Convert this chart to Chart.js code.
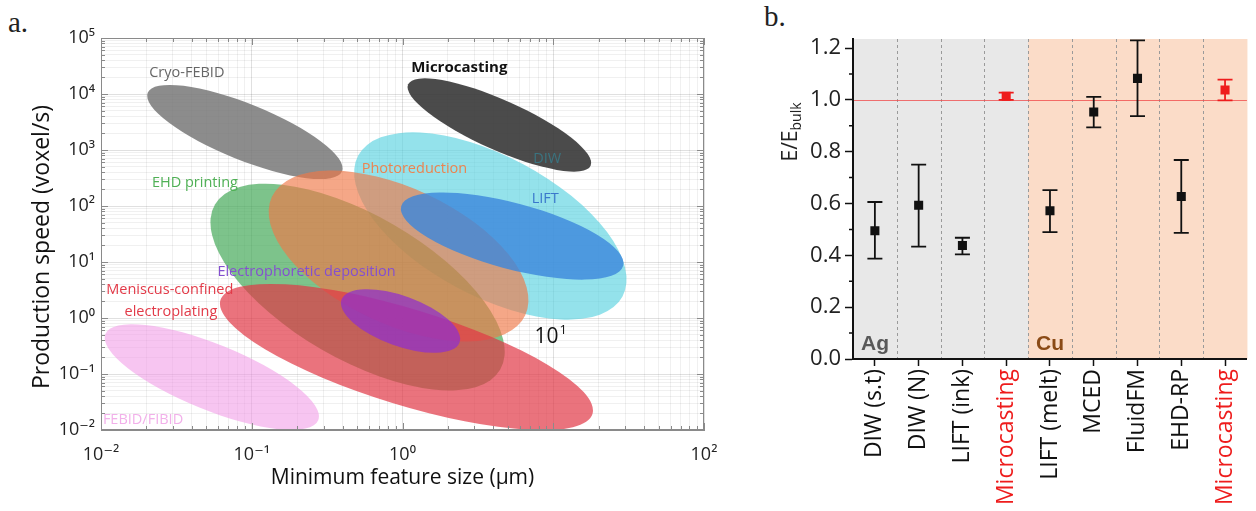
<!DOCTYPE html>
<html>
<head>
<meta charset="utf-8">
<script src="https://cdn.jsdelivr.net/npm/chart.js@4.4.0/dist/chart.umd.min.js"></script>
<style>
  html, body { margin: 0; padding: 0; background: #fff; }
  body { width: 1256px; height: 511px; position: relative; overflow: hidden; }
  .panel { position: absolute; top: 0; }
  #wrapA { left: 0; width: 740px; height: 511px; }
  #wrapB { left: 760px; width: 496px; height: 511px; }
  .letter { position: absolute; font-family: "Liberation Serif", serif; font-size: 29px; color: #222; line-height: 32px; }
</style>
</head>
<body>
<div class="letter" style="left:8px;top:6px">a.</div>
<div class="letter" style="left:764px;top:0px">b.</div>
<div class="panel" id="wrapA"><canvas id="chartA" width="740" height="511"></canvas></div>
<div class="panel" id="wrapB"><canvas id="chartB" width="496" height="511"></canvas></div>
<script>
// ---- panel a : production speed vs feature size (regions drawn as ellipses in log space)
const techniques = ["Microcasting", "Cryo-FEBID", "DIW", "EHD printing", "Photoreduction", "LIFT",
  "Meniscus-confined electroplating", "Electrophoretic deposition", "FEBID/FIBID"];
// ends of the long axis of each region (feature size in µm, speed in voxel/s)
const sizeFrom  = [1.09, 0.0204, 0.508, 0.057, 0.136, 0.98, 0.062, 0.394, 0.0107];
const speedFrom = [14900, 10540, 794, 106, 146, 99, 2.09, 2.14, 0.52];
const sizeTo    = [17.7, 0.397, 28.8, 4.45, 6.52, 29.1, 18.2, 2.39, 0.276];
const speedTo   = [525, 417, 2.43, 0.12, 1.12, 8.55, 0.0193, 0.365, 0.015];
// half width of each region across its long axis, in decades of speed
const spreadDecades = [0.446, 0.5, 1.25, 1.286, 1.214, 0.589, 0.857, 0.446, 0.589];

const sizeDecades = [-2, -1, 0, 1, 2];
const sizeTickLabels = ["10⁻²", "10⁻¹", "10⁰", "", "10²"];
const speedDecades = [-2, -1, 0, 1, 2, 3, 4, 5];
const speedTickLabels = ["10⁻²", "10⁻¹", "10⁰", "10¹", "10²", "10³", "10⁴", "10⁵"];

// ---- panel b : normalised modulus
const methods = ["DIW (s.t)", "DIW (N)", "LIFT (ink)", "Microcasting", "LIFT (melt)", "MCED", "FluidFM", "EHD-RP", "Microcasting"];
const metals = ["Ag", "Ag", "Ag", "Ag", "Cu", "Cu", "Cu", "Cu", "Cu"];
const modulusRatio = [0.495, 0.593, 0.438, 1.014, 0.572, 0.953, 1.083, 0.627, 1.038];
const errLow  = [0.387, 0.434, 0.404, 1.000, 0.490, 0.894, 0.937, 0.487, 0.998];
const errHigh = [0.606, 0.750, 0.468, 1.028, 0.652, 1.012, 1.230, 0.768, 1.078];
const ratioTicks = [0, 0.2, 0.4, 0.6, 0.8, 1.0, 1.2];

const regionColors = ["rgba(55,55,55,0.9)", "rgba(120,120,120,0.85)", "rgba(90,210,225,0.65)",
  "rgba(70,170,90,0.7)", "rgba(240,120,70,0.65)", "rgba(60,135,220,0.8)",
  "rgba(225,55,70,0.7)", "rgba(145,50,200,0.75)", "rgba(240,150,230,0.55)"];

const regionLabels = [
  {text: "Cryo-FEBID", x: 0.0371, y: 23700, color: "#666"},
  {text: "Microcasting", x: 2.38, y: 29100, color: "#111", bold: true},
  {text: "DIW", x: 9.12, y: 690, color: "#3a7480"},
  {text: "Photoreduction", x: 1.20, y: 458, color: "#ec8450"},
  {text: "EHD printing", x: 0.0420, y: 258, color: "#4fb055"},
  {text: "LIFT", x: 8.85, y: 133, color: "#3a78cc"},
  {text: "Electrophoretic deposition", x: 0.231, y: 6.63, color: "#8450d0"},
  {text: "Meniscus-confined", x: 0.0286, y: 3.16, color: "#e23a48"},
  {text: "electroplating", x: 0.0291, y: 1.28, color: "#e23a48"},
  {text: "FEBID/FIBID", x: 0.0190, y: 0.0151, color: "#f2b0ea"}
];

const RED = "#ee1c1c";
const FONT = "'Open Sans', 'DejaVu Sans', sans-serif";

function logTicks(decades) {
  const t = [];
  for (let k = 0; k < decades.length - 1; k++) {
    for (let s = 1; s < 10; s++) t.push({value: Number((s * Math.pow(10, decades[k])).toPrecision(3))});
  }
  t.push({value: Math.pow(10, decades[decades.length - 1])});
  return t;
}
function decadeLabel(value, decades, labels) {
  const l = Math.log10(value);
  const i = decades.indexOf(Math.round(l));
  if (Math.abs(l - Math.round(l)) > 1e-6 || i < 0) return "";
  return labels[i];
}
function isDecade(v) { const l = Math.log10(v); return Math.abs(l - Math.round(l)) < 1e-6; }

const regionPlugin = {
  id: "regions",
  beforeDatasetsDraw(chart) {
    const {ctx, chartArea: a, scales: {x, y}} = chart;
    const decade = y.getPixelForValue(1) - y.getPixelForValue(10);
    ctx.save();
    ctx.beginPath();
    ctx.rect(a.left, a.top, a.right - a.left, a.bottom - a.top);
    ctx.clip();
    techniques.forEach(function (name, i) {
      const x1 = x.getPixelForValue(sizeFrom[i]), y1 = y.getPixelForValue(speedFrom[i]);
      const x2 = x.getPixelForValue(sizeTo[i]), y2 = y.getPixelForValue(speedTo[i]);
      ctx.beginPath();
      ctx.ellipse((x1 + x2) / 2, (y1 + y2) / 2, Math.hypot(x2 - x1, y2 - y1) / 2,
        spreadDecades[i] * decade, Math.atan2(y2 - y1, x2 - x1), 0, Math.PI * 2);
      ctx.fillStyle = regionColors[i];
      ctx.fill();
    });
    ctx.restore();
  },
  afterDraw(chart) {
    const {ctx, chartArea: a, scales: {x, y}} = chart;
    ctx.save();
    // frame + inner ticks
    ctx.strokeStyle = "#8a8a8a";
    ctx.lineWidth = 1;
    ctx.strokeRect(a.left + 0.5, a.top + 0.5, a.right - a.left - 1, a.bottom - a.top - 1);
    ctx.beginPath();
    x.ticks.forEach(function (t) {
      const px = Math.round(x.getPixelForValue(t.value)) + 0.5;
      const len = isDecade(t.value) ? 7 : 4;
      ctx.moveTo(px, a.bottom); ctx.lineTo(px, a.bottom - len);
      ctx.moveTo(px, a.top); ctx.lineTo(px, a.top + len);
    });
    y.ticks.forEach(function (t) {
      const py = Math.round(y.getPixelForValue(t.value)) + 0.5;
      const len = isDecade(t.value) ? 7 : 4;
      ctx.moveTo(a.left, py); ctx.lineTo(a.left + len, py);
      ctx.moveTo(a.right, py); ctx.lineTo(a.right - len, py);
    });
    ctx.stroke();
    // region labels
    ctx.textAlign = "center";
    ctx.textBaseline = "middle";
    regionLabels.forEach(function (l) {
      ctx.font = (l.bold ? "bold 15px " : "14.5px ") + FONT;
      ctx.fillStyle = l.color;
      ctx.fillText(l.text, x.getPixelForValue(l.x), y.getPixelForValue(l.y));
    });
    // stray decade label left inside the plot
    ctx.fillStyle = "#111";
    ctx.textAlign = "left";
    ctx.textBaseline = "alphabetic";
    ctx.font = "21px " + FONT;
    const sx = x.getPixelForValue(7.5), sy = y.getPixelForValue(0.36);
    ctx.fillText("10", sx, sy);
    const w = ctx.measureText("10").width;
    ctx.font = "13px " + FONT;
    ctx.fillText("1", sx + w + 1, sy - 9);
    // y title
    ctx.translate(42, 247);
    ctx.rotate(-Math.PI / 2);
    ctx.textAlign = "center";
    ctx.textBaseline = "middle";
    ctx.font = "23px " + FONT;
    ctx.fillText("Production speed (voxel/s)", 0, 0);
    ctx.restore();
  }
};

new Chart(document.getElementById("chartA"), {
  type: "scatter",
  data: {
    datasets: techniques.map(function (name, i) {
      return {label: name, data: [{x: sizeFrom[i], y: speedFrom[i]}, {x: sizeTo[i], y: speedTo[i]}], pointRadius: 0, showLine: false};
    })
  },
  options: {
    responsive: false,
    animation: false,
    layout: {padding: {left: 0, right: 36, top: 38, bottom: 0}},
    plugins: {legend: {display: false}, tooltip: {enabled: false}},
    scales: {
      x: {
        type: "logarithmic", min: 0.01, max: 100,
        afterBuildTicks: function (s) { s.ticks = logTicks(sizeDecades); },
        afterFit: function (s) { s.height = 81; },
        ticks: {autoSkip: false, maxRotation: 0, padding: 14, color: "#222", font: {family: FONT, size: 18},
          callback: function (v) { return decadeLabel(v, sizeDecades, sizeTickLabels); }},
        grid: {drawTicks: false, color: function (c) { return isDecade(c.tick.value) ? "rgba(0,0,0,0.12)" : "rgba(0,0,0,0.06)"; }},
        border: {color: "#8a8a8a"},
        title: {display: true, text: "Minimum feature size (μm)", color: "#111", font: {family: FONT, size: 21}, padding: {top: 0, bottom: 20}}
      },
      y: {
        type: "logarithmic", min: 0.01, max: 100000,
        afterBuildTicks: function (s) { s.ticks = logTicks(speedDecades); },
        afterFit: function (s) { s.width = 101; },
        ticks: {autoSkip: false, padding: 6, color: "#222", font: {family: FONT, size: 18},
          callback: function (v) { return decadeLabel(v, speedDecades, speedTickLabels); }},
        grid: {drawTicks: false, color: function (c) { return isDecade(c.tick.value) ? "rgba(0,0,0,0.12)" : "rgba(0,0,0,0.06)"; }},
        border: {color: "#8a8a8a"}
      }
    }
  },
  plugins: [regionPlugin]
});

// ---- panel b
const groupColors = {Ag: "#e8e8e8", Cu: "#fbdcc8"};
const groupText = {Ag: "#595959", Cu: "#8a4a16"};
const markColor = function (i) { return methods[i] === "Microcasting" ? RED : "#111"; };

const modulusPlugin = {
  id: "modulus",
  beforeDraw(chart) {
    const {ctx, chartArea: a, scales: {x, y}} = chart;
    const half = (x.getPixelForValue(1) - x.getPixelForValue(0)) / 2;
    ctx.save();
    // metal groups
    metals.forEach(function (m, i) {
      const l = x.getPixelForValue(i) - half;
      ctx.fillStyle = groupColors[m];
      ctx.fillRect(l, a.top, half * 2 + 0.5, a.bottom - a.top);
    });
    ctx.font = "bold 21px 'Liberation Sans', Arial, sans-serif";
    ctx.textBaseline = "alphabetic";
    metals.forEach(function (m, i) {
      if (i > 0 && metals[i - 1] === m) return;
      ctx.fillStyle = groupText[m];
      ctx.fillText(m, x.getPixelForValue(i) - half + 8, y.getPixelForValue(0) - 9);
    });
    // separators
    ctx.strokeStyle = "#9a9a9a";
    ctx.lineWidth = 1;
    ctx.setLineDash([3, 3]);
    ctx.beginPath();
    for (let i = 1; i < methods.length; i++) {
      const px = Math.round(x.getPixelForValue(i) - half) + 0.5;
      ctx.moveTo(px, a.top); ctx.lineTo(px, a.bottom);
    }
    ctx.stroke();
    ctx.setLineDash([]);
    // bulk reference
    const py = Math.round(y.getPixelForValue(1)) + 0.5;
    ctx.strokeStyle = "rgba(240,70,70,0.75)";
    ctx.beginPath(); ctx.moveTo(a.left, py); ctx.lineTo(a.right, py); ctx.stroke();
    ctx.restore();
  },
  beforeDatasetsDraw(chart) {
    const {ctx, scales: {x, y}} = chart;
    ctx.save();
    ctx.lineWidth = 1.8;
    methods.forEach(function (m, i) {
      const px = x.getPixelForValue(i);
      const lo = y.getPixelForValue(errLow[i]), hi = y.getPixelForValue(errHigh[i]);
      ctx.strokeStyle = markColor(i);
      ctx.beginPath();
      ctx.moveTo(px, lo); ctx.lineTo(px, hi);
      ctx.moveTo(px - 7.5, lo); ctx.lineTo(px + 7.5, lo);
      ctx.moveTo(px - 7.5, hi); ctx.lineTo(px + 7.5, hi);
      ctx.stroke();
    });
    ctx.restore();
  },
  afterDraw(chart) {
    const {ctx, chartArea: a, scales: {y}} = chart;
    ctx.save();
    // minor ticks
    ctx.strokeStyle = "#111";
    ctx.lineWidth = 1.5;
    ctx.beginPath();
    for (let k = 0; k < ratioTicks.length - 1; k++) {
      const py = y.getPixelForValue((ratioTicks[k] + ratioTicks[k + 1]) / 2);
      ctx.moveTo(a.left - 4, py); ctx.lineTo(a.left, py);
    }
    ctx.stroke();
    // y title E/E_bulk
    ctx.translate(31, 132);
    ctx.rotate(-Math.PI / 2);
    ctx.fillStyle = "#222";
    ctx.textBaseline = "middle";
    ctx.font = "21px " + FONT;
    const w1 = ctx.measureText("E/E").width;
    ctx.font = "14px " + FONT;
    const w2 = ctx.measureText("bulk").width;
    const start = -(w1 + w2) / 2;
    ctx.font = "21px " + FONT;
    ctx.fillText("E/E", start, 0);
    ctx.font = "14px " + FONT;
    ctx.fillText("bulk", start + w1, 6);
    ctx.restore();
  }
};

new Chart(document.getElementById("chartB"), {
  type: "line",
  data: {
    labels: methods,
    datasets: [{
      label: "E/Ebulk",
      data: modulusRatio,
      showLine: false,
      pointStyle: "rect",
      pointRadius: 6.4,
      pointHoverRadius: 6.4,
      pointBorderWidth: 0,
      pointBackgroundColor: methods.map(function (m, i) { return markColor(i); })
    }]
  },
  options: {
    responsive: false,
    animation: false,
    layout: {padding: {left: 0, right: 1, top: 39, bottom: 0}},
    plugins: {legend: {display: false}, tooltip: {enabled: false}},
    scales: {
      x: {
        type: "category", offset: true,
        afterFit: function (s) { s.height = 152; },
        grid: {offset: false, drawOnChartArea: false, drawTicks: true, tickLength: 7, tickColor: "#111", tickWidth: 1.5},
        border: {color: "#111", width: 2},
        ticks: {autoSkip: false, minRotation: 90, maxRotation: 90, padding: 3, font: {family: FONT, size: 23},
          color: function (c) { return markColor(c.index); }}
      },
      y: {
        min: 0, max: 1.235,
        afterBuildTicks: function (s) { s.ticks = ratioTicks.map(function (v) { return {value: v}; }); },
        afterFit: function (s) { s.width = 93; },
        grid: {drawOnChartArea: false, tickLength: 8, tickColor: "#111", tickWidth: 1.5},
        border: {color: "#111", width: 2},
        ticks: {padding: 4, color: "#222", font: {family: FONT, size: 22},
          callback: function (v) { return v.toFixed(1); }}
      }
    }
  },
  plugins: [modulusPlugin]
});
</script>
</body>
</html>
